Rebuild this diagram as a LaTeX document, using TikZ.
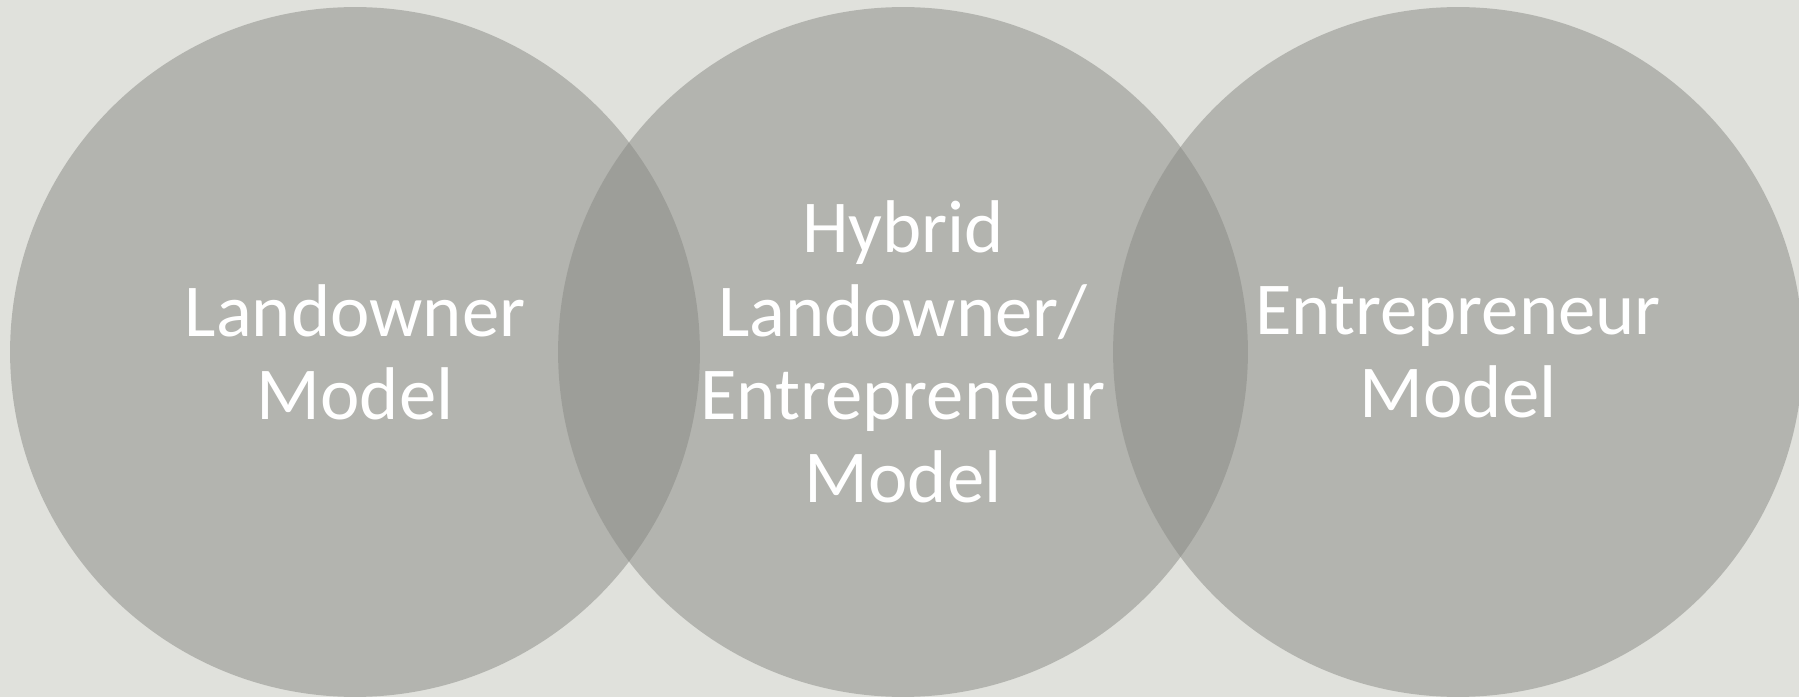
\documentclass[tikz,border=0pt]{standalone}
\usepackage{fontspec}
\setmainfont{Carlito}
\usetikzlibrary{positioning}
\definecolor{bgGray}{RGB}{224,225,220}
\definecolor{discGray}{RGB}{136,137,132}

\begin{document}
\begin{tikzpicture}[x=0.02cm,y=0.02cm,
    disc/.style={circle,fill=discGray,fill opacity=0.5,minimum size=13.8cm,inner sep=0pt},
    label/.style={align=center,text=white,font=\fontsize{42.5}{47.4}\selectfont}]
    \fill[bgGray] (0,0) rectangle (1799,697);
    \useasboundingbox (0,0) rectangle (1799,697);
    % three overlapping discs
    \node(cA) [disc] at (355,345) {};
    \node(cB) [disc] at (903,345) {};
    \node(cC) [disc] at (1458,345) {};
    % texts
    \node(tA) [label] at (cA.center) {Landowner\\Model};
    \node(tB) [label] at (cB.center) {Hybrid\\Landowner/\\Entrepreneur\\Model};
    \node(tC) [label] at (cC.center) {Entrepreneur\\Model};
\end{tikzpicture}
\end{document}
